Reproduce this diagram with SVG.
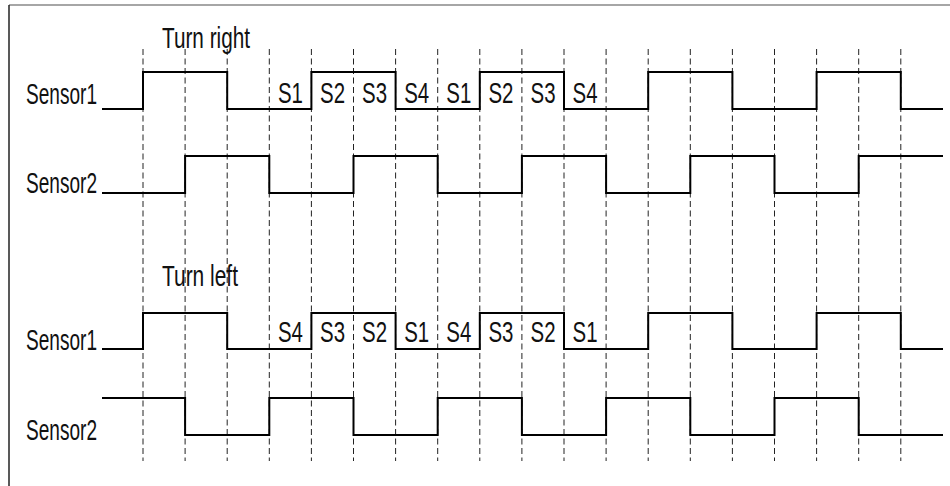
<svg xmlns="http://www.w3.org/2000/svg" width="950" height="486" viewBox="0 0 950 486">
<style>
.t{font-family:"Liberation Sans",Arial,sans-serif;font-size:29px;fill:#111}
.s{text-anchor:middle}
.w{fill:none;stroke:#000;stroke-width:2}
.g{stroke:#222;stroke-width:1;stroke-dasharray:6,3.5}
</style>
<rect width="950" height="486" fill="#fff"/>
<g id="frame">
<line x1="9" y1="5" x2="950" y2="5" stroke="#888" stroke-width="1.5"/>
<line x1="9" y1="5" x2="9" y2="486" stroke="#222" stroke-width="1.5"/>
</g>
<g id="gridlines">
<line class="g" x1="143" y1="49" x2="143" y2="461"/>
<line class="g" x1="185.1" y1="49" x2="185.1" y2="461"/>
<line class="g" x1="227.2" y1="49" x2="227.2" y2="461"/>
<line class="g" x1="269.3" y1="49" x2="269.3" y2="461"/>
<line class="g" x1="311.4" y1="49" x2="311.4" y2="461"/>
<line class="g" x1="353.5" y1="49" x2="353.5" y2="461"/>
<line class="g" x1="395.6" y1="49" x2="395.6" y2="461"/>
<line class="g" x1="437.7" y1="49" x2="437.7" y2="461"/>
<line class="g" x1="479.8" y1="49" x2="479.8" y2="461"/>
<line class="g" x1="521.9" y1="49" x2="521.9" y2="461"/>
<line class="g" x1="564" y1="49" x2="564" y2="461"/>
<line class="g" x1="606.1" y1="49" x2="606.1" y2="461"/>
<line class="g" x1="648.2" y1="49" x2="648.2" y2="461"/>
<line class="g" x1="690.3" y1="49" x2="690.3" y2="461"/>
<line class="g" x1="732.4" y1="49" x2="732.4" y2="461"/>
<line class="g" x1="774.5" y1="49" x2="774.5" y2="461"/>
<line class="g" x1="816.6" y1="49" x2="816.6" y2="461"/>
<line class="g" x1="858.7" y1="49" x2="858.7" y2="461"/>
<line class="g" x1="900.8" y1="49" x2="900.8" y2="461"/>
</g>
<g id="turn-right">
<text class="t" x="162" y="48" textLength="88" lengthAdjust="spacingAndGlyphs">Turn right</text>
<g id="tr-sensor1">
<text class="t" x="26" y="104" textLength="71" lengthAdjust="spacingAndGlyphs">Sensor1</text>
<path class="w" d="M102,109 H143 V72 H227.2 V109 H311.4 V72 H395.6 V109 H479.8 V72 H564 V109 H648.2 V72 H732.4 V109 H816.6 V72 H900.8 V109 H943"/>
<g class="t s">
<text x="290.4" y="103" textLength="25" lengthAdjust="spacingAndGlyphs">S1</text>
<text x="332.5" y="103" textLength="25" lengthAdjust="spacingAndGlyphs">S2</text>
<text x="374.6" y="103" textLength="25" lengthAdjust="spacingAndGlyphs">S3</text>
<text x="416.7" y="103" textLength="25" lengthAdjust="spacingAndGlyphs">S4</text>
<text x="458.8" y="103" textLength="25" lengthAdjust="spacingAndGlyphs">S1</text>
<text x="500.9" y="103" textLength="25" lengthAdjust="spacingAndGlyphs">S2</text>
<text x="543" y="103" textLength="25" lengthAdjust="spacingAndGlyphs">S3</text>
<text x="585.1" y="103" textLength="25" lengthAdjust="spacingAndGlyphs">S4</text>
</g>
</g>
<g id="tr-sensor2">
<text class="t" x="26" y="193" textLength="71" lengthAdjust="spacingAndGlyphs">Sensor2</text>
<path class="w" d="M102,193 H185.1 V156 H269.3 V193 H353.5 V156 H437.7 V193 H521.9 V156 H606.1 V193 H690.3 V156 H774.5 V193 H858.7 V156 H943"/>
</g>
</g>
<g id="turn-left">
<text class="t" x="162" y="286" textLength="76" lengthAdjust="spacingAndGlyphs">Turn left</text>
<g id="tl-sensor1">
<text class="t" x="26" y="350" textLength="71" lengthAdjust="spacingAndGlyphs">Sensor1</text>
<path class="w" d="M102,349 H143 V313 H227.2 V349 H311.4 V313 H395.6 V349 H479.8 V313 H564 V349 H648.2 V313 H732.4 V349 H816.6 V313 H900.8 V349 H943"/>
<g class="t s">
<text x="290.4" y="342" textLength="25" lengthAdjust="spacingAndGlyphs">S4</text>
<text x="332.5" y="342" textLength="25" lengthAdjust="spacingAndGlyphs">S3</text>
<text x="374.6" y="342" textLength="25" lengthAdjust="spacingAndGlyphs">S2</text>
<text x="416.7" y="342" textLength="25" lengthAdjust="spacingAndGlyphs">S1</text>
<text x="458.8" y="342" textLength="25" lengthAdjust="spacingAndGlyphs">S4</text>
<text x="500.9" y="342" textLength="25" lengthAdjust="spacingAndGlyphs">S3</text>
<text x="543" y="342" textLength="25" lengthAdjust="spacingAndGlyphs">S2</text>
<text x="585.1" y="342" textLength="25" lengthAdjust="spacingAndGlyphs">S1</text>
</g>
</g>
<g id="tl-sensor2">
<text class="t" x="26" y="440" textLength="71" lengthAdjust="spacingAndGlyphs">Sensor2</text>
<path class="w" d="M102,398 H185.1 V435 H269.3 V398 H353.5 V435 H437.7 V398 H521.9 V435 H606.1 V398 H690.3 V435 H774.5 V398 H858.7 V435 H943"/>
</g>
</g>
</svg>
